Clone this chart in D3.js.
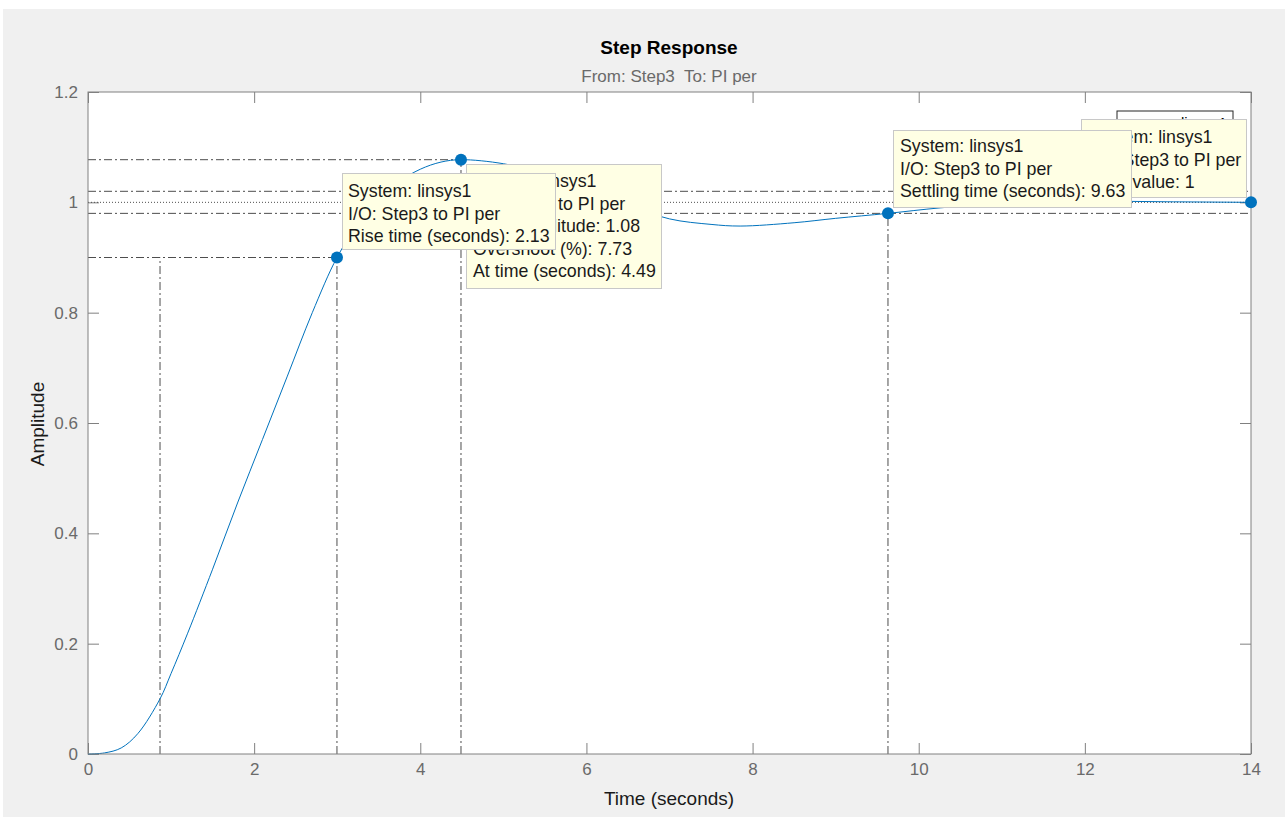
<!DOCTYPE html>
<html>
<head>
<meta charset="utf-8">
<title>Step Response</title>
<script src="https://cdn.jsdelivr.net/npm/d3@7/dist/d3.min.js"></script>
<style type="text/css">
  body { margin: 0; background: #fff; }
  svg { display: block; font-family: "Liberation Sans", Arial, sans-serif; }
</style>
</head>
<body>
<svg id="chart" width="1285" height="817"></svg>
<script type="text/javascript">
// step response samples
var timeS     = [0, 0.2, 0.4, 0.6, 0.867, 1.0, 1.2, 1.5, 1.8, 2.1, 2.4, 2.7, 2.997, 3.25, 3.5, 3.75, 4.0, 4.25, 4.49, 5.0, 5.5, 6.0, 6.5, 7.0, 7.5, 7.85, 8.5, 9.0, 9.63, 10.26, 11, 12, 13, 14];
var amplitude = [0, 0.002, 0.011, 0.037, 0.1, 0.146, 0.219, 0.335, 0.455, 0.57, 0.685, 0.8, 0.9, 0.96, 1.005, 1.038, 1.06, 1.073, 1.0773, 1.07, 1.052, 1.025, 0.995, 0.97, 0.96, 0.957, 0.963, 0.971, 0.98, 0.99, 0.998, 1.002, 1.001, 1.0];

var xTicks = [0, 2, 4, 6, 8, 10, 12, 14];
var yTicks = [0, 0.2, 0.4, 0.6, 0.8, 1, 1.2];

// characteristics
var riseTimes  = [0.867, 2.997];
var riseLevels = [0.1, 0.9];
var peakTime = 4.49, peakAmp = 1.0773;
var settleTime = 9.63, settleBand = [0.98, 1.02];
var finalTime = 14, finalValue = 1;

var tipRise   = ["System: linsys1", "I/O: Step3 to PI per", "Rise time (seconds): 2.13"];
var tipPeak   = ["System: linsys1", "I/O: Step3 to PI per", "Peak amplitude: 1.08", "Overshoot (%): 7.73", "At time (seconds): 4.49"];
var tipSettle = ["System: linsys1", "I/O: Step3 to PI per", "Settling time (seconds): 9.63"];
var tipFinal  = ["System: linsys1", "I/O: Step3 to PI per", "Final value: 1"];

var padL = 88, padR = 1251, padT = 92, padB = 754;
var blue = "#0072BD", axisCol = "#808080", labCol = "#6a6a6a", charCol = "#4d4d4d";
var dashDot = "8,3,2,3";

var svg = d3.select("#chart");
svg.append("rect").attr("x", 3).attr("y", 9).attr("width", 1282).attr("height", 808).attr("fill", "#f0f0f0");

var x = d3.scaleLinear().domain([0, 14]).range([padL, padR]);
var y = d3.scaleLinear().domain([0, 1.2]).range([padB, padT]);

svg.append("rect").attr("x", padL).attr("y", padT).attr("width", padR - padL).attr("height", padB - padT)
  .attr("fill", "#fff");

// axes with inward ticks
function styleAxis(g) {
  g.select(".domain").remove();
  g.selectAll(".tick line").attr("stroke", axisCol);
  g.selectAll(".tick text").attr("fill", labCol).style("font-size", "17px");
}
svg.append("g").attr("transform", "translate(0," + padB + ")")
  .call(d3.axisBottom(x).tickValues(xTicks).tickFormat(d3.format("d")).tickSizeInner(-11).tickSizeOuter(0).tickPadding(9))
  .call(styleAxis);
svg.append("g").attr("transform", "translate(0," + padT + ")")
  .call(d3.axisTop(x).tickValues(xTicks).tickFormat("").tickSizeInner(-11).tickSizeOuter(0))
  .call(styleAxis);
svg.append("g").attr("transform", "translate(" + padL + ",0)")
  .call(d3.axisLeft(y).tickValues(yTicks).tickFormat(d3.format("~g")).tickSizeInner(-11).tickSizeOuter(0).tickPadding(10))
  .call(styleAxis);
svg.append("g").attr("transform", "translate(" + padR + ",0)")
  .call(d3.axisRight(y).tickValues(yTicks).tickFormat("").tickSizeInner(-11).tickSizeOuter(0))
  .call(styleAxis);

// characteristic lines
var charLines = [
  {x1: 0, y1: peakAmp, x2: peakTime, y2: peakAmp, d: dashDot},
  {x1: 0, y1: settleBand[1], x2: 14, y2: settleBand[1], d: dashDot},
  {x1: 0, y1: settleBand[0], x2: 14, y2: settleBand[0], d: dashDot},
  {x1: 0, y1: finalValue, x2: 14, y2: finalValue, d: "1,2"},
  {x1: 0, y1: riseLevels[1], x2: riseTimes[1], y2: riseLevels[1], d: dashDot},
  {x1: riseTimes[0], y1: 0, x2: riseTimes[0], y2: riseLevels[1], d: dashDot},
  {x1: riseTimes[1], y1: 0, x2: riseTimes[1], y2: riseLevels[1], d: dashDot},
  {x1: peakTime, y1: 0, x2: peakTime, y2: peakAmp, d: dashDot},
  {x1: settleTime, y1: 0, x2: settleTime, y2: settleBand[0], d: dashDot}
];
svg.selectAll("line.char").data(charLines).enter().append("line").attr("class", "char")
  .attr("x1", function (d) { return x(d.x1); }).attr("y1", function (d) { return y(d.y1); })
  .attr("x2", function (d) { return x(d.x2); }).attr("y2", function (d) { return y(d.y2); })
  .attr("stroke", charCol).attr("stroke-width", 1).attr("stroke-dasharray", function (d) { return d.d; });

// response curve
var pts = timeS.map(function (t, i) { return [t, amplitude[i]]; });
svg.append("path").datum(pts)
  .attr("fill", "none").attr("stroke", blue).attr("stroke-width", 1)
  .attr("d", d3.line().x(function (d) { return x(d[0]); }).y(function (d) { return y(d[1]); }).curve(d3.curveCatmullRom.alpha(0.5)));

// axes box
svg.append("rect").attr("x", padL).attr("y", padT).attr("width", padR - padL).attr("height", padB - padT)
  .attr("fill", "none").attr("stroke", axisCol).attr("stroke-width", 1);

// markers
var markers = [[riseTimes[1], riseLevels[1]], [peakTime, peakAmp], [settleTime, settleBand[0]], [finalTime, finalValue]];
svg.selectAll("circle.mk").data(markers).enter().append("circle").attr("class", "mk")
  .attr("cx", function (d) { return x(d[0]); }).attr("cy", function (d) { return y(d[1]); })
  .attr("r", 6).attr("fill", blue);

// legend (mostly hidden under datatips)
var lg = svg.append("g");
lg.append("rect").attr("x", 1117).attr("y", 111).attr("width", 116).attr("height", 26).attr("fill", "#fff").attr("stroke", "#262626");
lg.append("line").attr("x1", 1125).attr("x2", 1172).attr("y1", 124).attr("y2", 124).attr("stroke", blue);
lg.append("text").attr("x", 1181).attr("y", 128).style("font-size", "15px").attr("fill", "#000").text("linsys1");

// datatips
function tip(lines, bx, by, bw, bh, tx, ty0) {
  var g = svg.append("g");
  g.append("rect").attr("x", bx + 0.5).attr("y", by + 0.5).attr("width", bw).attr("height", bh)
    .attr("fill", "#ffffe4").attr("stroke", "#c8c8c8");
  g.selectAll("text").data(lines).enter().append("text")
    .attr("x", tx).attr("y", function (d, i) { return ty0 + i * 22.5; })
    .attr("fill", "#1a1a1a").style("font-size", "17.8px").text(function (d) { return d; });
}
tip(tipPeak, 466, 164, 195, 124, 473, 187);
tip(tipRise, 342, 173, 213, 76, 348, 197);
tip(tipFinal, 1081, 119, 165, 78, 1089, 143);
tip(tipSettle, 893, 130, 238, 77, 900, 152);

// titles
svg.append("text").attr("x", 669).attr("y", 54).attr("text-anchor", "middle")
  .style("font-size", "19px").style("font-weight", "bold").attr("fill", "#000").text("Step Response");
svg.append("text").attr("x", 669).attr("y", 82).attr("text-anchor", "middle").style("white-space", "pre")
  .style("font-size", "17px").attr("fill", "#6a6a6a").text("From: Step3  To: PI per");
svg.append("text").attr("x", 669).attr("y", 805).attr("text-anchor", "middle")
  .style("font-size", "19px").attr("fill", "#1a1a1a").text("Time (seconds)");
svg.append("text").attr("transform", "translate(44,424) rotate(-90)").attr("text-anchor", "middle")
  .style("font-size", "19px").attr("fill", "#1a1a1a").text("Amplitude");
</script>
</body>
</html>
